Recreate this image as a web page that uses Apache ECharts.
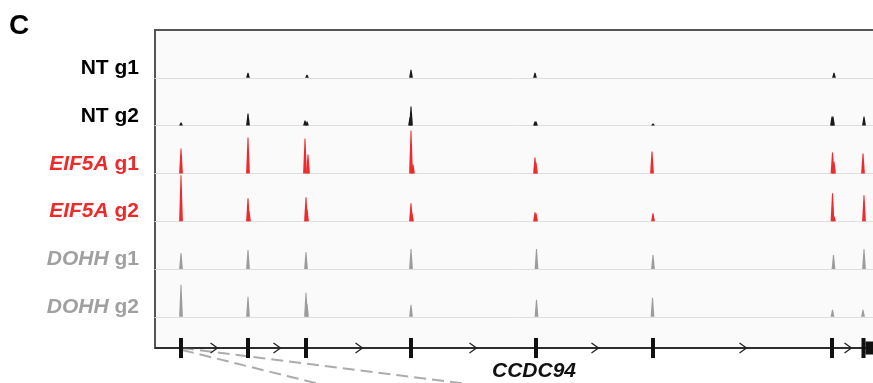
<!DOCTYPE html>
<html>
<head>
<meta charset="utf-8">
<script src="https://cdn.jsdelivr.net/npm/echarts@6/dist/echarts.min.js"></script>
<style>
  html, body { margin: 0; background: #fff; }
  #chart { width: 873px; height: 383px; }
</style>
</head>
<body>
<div id="chart"></div>
<script>
// x positions are kb from the left edge of the view window
const VIEW_KB = 72.1;

// gene model (CCDC94, + strand)
const exons = [2.6, 9.3, 15.1, 25.6, 38.1, 49.8, 67.7, 70.85];
const utrBlocks = [[71.05, 72.1]];
const strandArrows = [5.9, 12.2, 20.4, 31.8, 44.0, 58.8, 69.3];

// dashed zoom lines from exon 1 to the panel below: [x, y] pairs
const zoomLineA = [[2.7, 0], [42.4, -5]];
const zoomLineB = [[2.7, -0.2], [22.1, -5]];

// coverage peaks per track: [position kb, signal]
const ntG1 = [[9.3, 5], [15.2, 3], [25.6, 8], [38.0, 5], [67.9, 5]];
const ntG2 = [[2.6, 3], [9.3, 12], [15.0, 5], [15.2, 4], [25.5, 8], [25.6, 19],
  [38.0, 4], [38.1, 4], [49.8, 2], [67.7, 9], [67.8, 9], [70.9, 9]];
const eif5aG1 = [[2.6, 25], [9.3, 36], [15.0, 35], [15.3, 19], [25.6, 43], [25.8, 9],
  [38.0, 16], [38.1, 11], [49.7, 22], [67.75, 21], [67.9, 12], [70.8, 20]];
const eif5aG2 = [[2.6, 46], [9.3, 23], [9.4, 10], [15.1, 24], [15.2, 12], [25.6, 18], [25.7, 8],
  [38.0, 9], [38.1, 8], [49.8, 8], [67.75, 28], [67.9, 5], [70.9, 26]];
const dohhG1 = [[2.6, 16], [9.3, 19], [15.1, 17], [25.6, 20], [38.15, 20], [49.8, 14],
  [67.85, 14], [70.9, 20]];
const dohhG2 = [[2.6, 32], [9.3, 20], [15.1, 24], [15.2, 13], [25.6, 12], [38.15, 17],
  [49.75, 19], [67.75, 7], [70.8, 7]];

const trackGene = ["NT", "NT", "EIF5A", "EIF5A", "DOHH", "DOHH"];
const trackGuide = ["g1", "g2", "g1", "g2", "g1", "g2"];
const trackData = [ntG1, ntG2, eif5aG1, eif5aG2, dohhG1, dohhG2];
const trackColors = ["#1a1a1a", "#1a1a1a", "#f02a2a", "#f02a2a", "#9c9c9c", "#9c9c9c"];
const labelColors = ["#000000", "#000000", "#ee2a2a", "#ee2a2a", "#a0a0a0", "#a0a0a0"];

const FONT = '"Liberation Sans", Arial, Helvetica, sans-serif';
const PANEL_LEFT = 155;
const PANEL_W = 721; // runs past the right edge of the canvas
const PANEL_TOP = 30;
const TRACK_H = 47.8;
const TRACK_MAX = 47.8;

const chart = echarts.init(document.getElementById("chart"));

function peakItem(params, api) {
  const x = api.value(0);
  const base = api.coord([x, 0]);
  const top = api.coord([x, api.value(1)]);
  return {
    type: "polygon",
    shape: { points: [[base[0] - 1.9, base[1]], [top[0] - 0.5, top[1]],
                      [top[0] + 0.5, top[1]], [base[0] + 1.9, base[1]]] },
    style: { fill: api.visual("color") }
  };
}

const grids = [
  // panel backdrop
  { left: PANEL_LEFT, width: PANEL_W, top: PANEL_TOP, bottom: 35, show: true, outerBoundsMode: "none",
    backgroundColor: "#fafafa", borderColor: "#555", borderWidth: 2 }
];
const xAxes = [{ gridIndex: 0, type: "value", min: 0, max: VIEW_KB, show: false }];
const yAxes = [{ gridIndex: 0, type: "value", min: 0, max: 1, show: false }];
const series = [];
const graphics = [];

trackData.forEach((peaks, i) => {
  const g = i + 1;
  grids.push({ left: PANEL_LEFT, width: PANEL_W, top: PANEL_TOP + i * TRACK_H, height: TRACK_H,
               outerBoundsMode: "none" });
  xAxes.push({
    gridIndex: g, type: "value", min: 0, max: VIEW_KB,
    axisLine: { show: true, lineStyle: { color: "#dedede", width: 1 } },
    axisTick: { show: false }, axisLabel: { show: false }, splitLine: { show: false }
  });
  yAxes.push({ gridIndex: g, type: "value", min: 0, max: TRACK_MAX, show: false });
  series.push({
    type: "custom", name: trackGene[i] + " " + trackGuide[i],
    xAxisIndex: g, yAxisIndex: g, color: trackColors[i],
    renderItem: peakItem, data: peaks, z: 3
  });

  const italic = trackGene[i] !== "NT";
  graphics.push({
    type: "text", x: 139, y: PANEL_TOP + (i + 1) * TRACK_H - 9.5,
    style: {
      text: italic ? "{i|" + trackGene[i] + "} " + trackGuide[i] : trackGene[i] + " " + trackGuide[i],
      fill: labelColors[i], font: "bold 21px " + FONT,
      align: "right", verticalAlign: "middle",
      textAlign: "right", textVerticalAlign: "middle",
      rich: { i: { fontStyle: "italic", fontWeight: "bold", fontSize: 21, fontFamily: FONT, fill: labelColors[i] } }
    }
  });
});

// gene model track
const G = trackData.length + 1;
grids.push({ left: PANEL_LEFT, width: PANEL_W, top: 338, height: 20, outerBoundsMode: "none" });
xAxes.push({ gridIndex: G, type: "value", min: 0, max: VIEW_KB, show: false });
yAxes.push({ gridIndex: G, type: "value", min: -1, max: 1, show: false });

series.push(
  {
    type: "line", xAxisIndex: G, yAxisIndex: G, data: zoomLineA, clip: false,
    symbol: "none", silent: true, z: 1,
    lineStyle: { color: "#acacac", width: 2, type: [12, 6] }
  },
  {
    type: "line", xAxisIndex: G, yAxisIndex: G, data: zoomLineB, clip: false,
    symbol: "none", silent: true, z: 1,
    lineStyle: { color: "#acacac", width: 2, type: [12, 6] }
  },
  {
    type: "line", xAxisIndex: G, yAxisIndex: G, data: [[0, 0], [VIEW_KB, 0]],
    symbol: "none", silent: true, z: 2,
    lineStyle: { color: "#222", width: 1.5 }
  },
  {
    type: "custom", xAxisIndex: G, yAxisIndex: G, clip: false, z: 4,
    data: exons.map((x) => [x]),
    renderItem: (params, api) => {
      const t = api.coord([api.value(0), 1]);
      const b = api.coord([api.value(0), -1]);
      return { type: "rect", shape: { x: t[0] - 2, y: t[1], width: 4, height: b[1] - t[1] },
               style: { fill: "#111" } };
    }
  },
  {
    type: "custom", xAxisIndex: G, yAxisIndex: G, clip: false, z: 4,
    data: utrBlocks,
    renderItem: (params, api) => {
      const a = api.coord([api.value(0), 0.65]);
      const b = api.coord([api.value(1), -0.65]);
      return { type: "rect", shape: { x: a[0], y: a[1], width: b[0] - a[0], height: b[1] - a[1] },
               style: { fill: "#111" } };
    }
  },
  {
    type: "custom", xAxisIndex: G, yAxisIndex: G, clip: false, z: 4,
    data: strandArrows.map((x) => [x]),
    renderItem: (params, api) => {
      const c = api.coord([api.value(0), 0]);
      return { type: "polyline",
               shape: { points: [[c[0] - 3.5, c[1] - 5], [c[0] + 3.5, c[1]], [c[0] - 3.5, c[1] + 5]] },
               style: { stroke: "#222", lineWidth: 1.3, fill: null } };
    }
  }
);

graphics.push(
  { type: "text", x: 9, y: 26,
    style: { text: "C", fill: "#000", font: "bold 28px " + FONT,
             align: "left", verticalAlign: "middle", textAlign: "left", textVerticalAlign: "middle" } },
  { type: "text", x: 534, y: 371,
    style: { text: "CCDC94", fill: "#111", font: "italic bold 21px " + FONT,
             align: "center", verticalAlign: "middle", textAlign: "center", textVerticalAlign: "middle" } }
);

chart.setOption({
  animation: false,
  grid: grids,
  xAxis: xAxes,
  yAxis: yAxes,
  series: series,
  graphic: graphics
});
</script>
</body>
</html>
